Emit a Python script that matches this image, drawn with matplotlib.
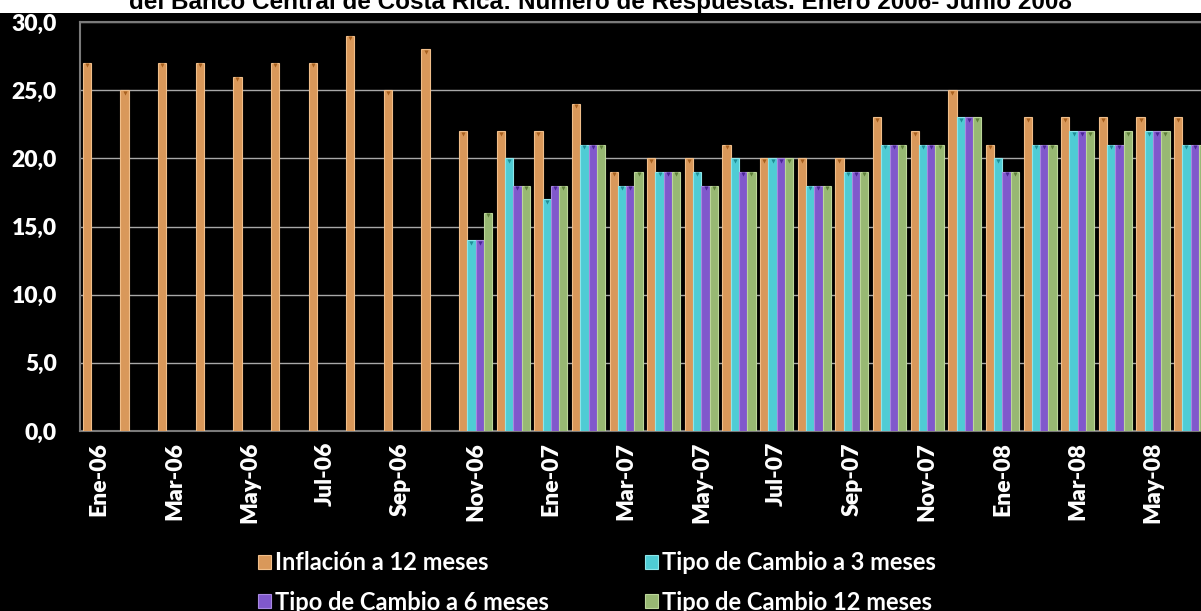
import matplotlib
matplotlib.use("Agg")
import matplotlib.pyplot as plt
from matplotlib.patches import Patch
import numpy as np

months = ["Ene-06", "Feb-06", "Mar-06", "Abr-06", "May-06", "Jun-06", "Jul-06", "Ago-06",
          "Sep-06", "Oct-06", "Nov-06", "Dic-06", "Ene-07", "Feb-07", "Mar-07", "Abr-07",
          "May-07", "Jun-07", "Jul-07", "Ago-07", "Sep-07", "Oct-07", "Nov-07", "Dic-07",
          "Ene-08", "Feb-08", "Mar-08", "Abr-08", "May-08", "Jun-08"]

inflacion_12m = [27, 25, 27, 27, 26, 27, 27, 29, 25, 28, 22, 22, 22, 24, 19, 20,
                 20, 21, 20, 20, 20, 23, 22, 25, 21, 23, 23, 23, 23, 23]
nan = float("nan")
tc_3m = [nan] * 10 + [14, 20, 17, 21, 18, 19, 19, 20, 20, 18, 19, 21, 21, 23, 20, 21, 22, 21, 22, 21]
tc_6m = [nan] * 10 + [14, 18, 18, 21, 18, 19, 18, 19, 20, 18, 19, 21, 21, 23, 19, 21, 22, 21, 22, 21]
tc_12m = [nan] * 10 + [16, 18, 18, 21, 19, 19, 18, 19, 20, 18, 19, 21, 21, 23, 19, 21, 22, 22, 22, 21]

series = [
    ("Inflación a 12 meses", inflacion_12m, "#D9985A", "#F0BE8A", "#A8601E"),
    ("Tipo de Cambio a 3 meses", tc_3m, "#4FCCD4", "#8EE6EA", "#1F8E96"),
    ("Tipo de Cambio a 6 meses", tc_6m, "#8058CC", "#A889E0", "#4A2596"),
    ("Tipo de Cambio 12 meses", tc_12m, "#98B873", "#BCD69A", "#5E7F3A"),
]

tick_labels = months[::2]
y_ticks = [0, 5, 10, 15, 20, 25, 30]
y_labels = ["0,0", "5,0", "10,0", "15,0", "20,0", "25,0", "30,0"]

W, H = 1201, 611
fig = plt.figure(figsize=(W / 100, H / 100), dpi=100, facecolor="black")

# white strip carrying the title
fig.patches.append(plt.Rectangle((0, 1 - 13 / H), 1, 13 / H, transform=fig.transFigure,
                                 facecolor="white", edgecolor="none", zorder=0))
fig.text(0.5, 1 - 8.5 / H,
         "del Banco Central de Costa Rica: Número de Respuestas. Enero 2006- Junio 2008",
         ha="center", va="baseline", fontsize=17.5, fontweight="bold",
         family="Liberation Sans", color="black")

left = 80.5 / W
width = 30 * 37.63 / W
bottom = 180 / H
height = 409 / H
ax = fig.add_axes([left, bottom, width, height], facecolor="black")

x = np.arange(len(months))
bw = 0.22
offsets = [-1.5, -0.5, 0.5, 1.5]
handles = []
for (name, vals, col, edge, tip), off in zip(series, offsets):
    vals = np.array(vals, dtype=float)
    ax.bar(x + off * bw, vals, width=bw, color=col, edgecolor=edge, linewidth=0.8, zorder=3)
    ax.scatter(x + off * bw, vals - 0.18, marker="v", s=9, color=tip, linewidths=0, zorder=4)
    handles.append(Patch(facecolor=col, edgecolor=edge, linewidth=0.8, label=name))

ax.set_xlim(-0.5, len(months) - 0.5)
ax.set_ylim(0, 30)
ax.set_yticks(y_ticks)
ax.set_yticklabels(y_labels)
ax.set_xticks(x[::2])
ax.set_xticklabels(tick_labels, rotation=90)
ax.yaxis.grid(True, color="#A8A8A8", linewidth=1.0, zorder=0)
ax.set_axisbelow(True)

for side in ["left", "top", "bottom", "right"]:
    ax.spines[side].set_color("#7A7A7A")
    ax.spines[side].set_linewidth(1.5)

ax.tick_params(axis="both", length=0, colors="white")
ax.tick_params(axis="y", pad=17)
ax.tick_params(axis="x", pad=8)
for lbl in ax.get_yticklabels() + ax.get_xticklabels():
    lbl.set_family("Lato")
    lbl.set_fontweight("heavy")
    lbl.set_fontsize(16.5)
    lbl.set_color("white")

# legend: one entry per slot, two rows by two columns
legend_font = {"family": "Lato", "weight": "bold", "size": 17}
slots = [(0, 258, 563), (1, 645, 563), (2, 258, 602), (3, 645, 602)]
for idx, px, py in slots:
    fig.legend(handles=[handles[idx]], loc="center left",
               bbox_to_anchor=(px / W, 1 - py / H), frameon=False,
               prop=legend_font, labelcolor="white", handlelength=0.55,
               handleheight=0.55, handletextpad=0.15, borderaxespad=0, borderpad=0)

fig.savefig("out.png", dpi=100, facecolor="black")
